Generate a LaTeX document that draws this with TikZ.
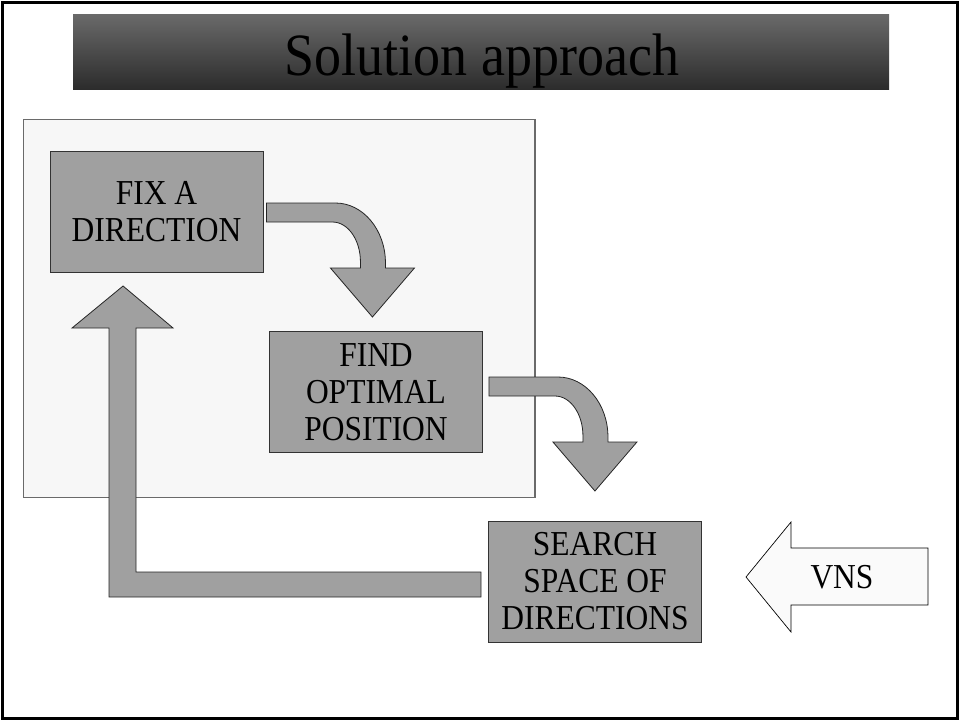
\documentclass[tikz,border=0pt]{standalone}
\usepackage{fontspec}
\setmainfont{Liberation Serif}
\newfontfamily\slidefont[FakeStretch=0.9]{Liberation Serif}
\usetikzlibrary{calc}

\definecolor{boxgray}{HTML}{A0A0A0}
\definecolor{panelfill}{HTML}{F7F7F7}
\definecolor{panelline}{HTML}{6A6A6A}
\definecolor{titletop}{HTML}{6A6A6A}
\definecolor{titlebottom}{HTML}{2C2C2C}

% bent block arrow, drawn from its upper left corner
\newcommand{\bendarrow}[1]{%
  \draw[blockarrow, shift={(#1)}] (0,0) -- (69,0)
    .. controls (96.6,0) and (119,26.9) .. (119,60) -- (119,65)
    -- (148,65) -- (106,114) -- (64,65) -- (94,65) -- (94,59)
    .. controls (94,36.9) and (81.5,19) .. (66,19) -- (0,19) -- cycle;}

\begin{document}
\begin{tikzpicture}[x=1pt, y=-1pt,
    stepbox/.style={draw=black!80, fill=boxgray, line width=0.9pt,
      minimum width=213pt, minimum height=121pt, inner sep=0pt,
      align=center, font=\slidefont\fontsize{35}{37}\selectfont},
    blockarrow/.style={draw=black!85, fill=boxgray, line width=0.8pt}]
    \useasboundingbox (0,0) rectangle (960,721);
    \draw[line width=2.5pt] (2.5,2.5) rectangle (957.5,718.5);

    % title bar
    \shade[top color=titletop, bottom color=titlebottom] (73,14) rectangle (889,89);
    \node[anchor=base, font=\slidefont\fontsize{60}{66}\selectfont] (title) at (482,75) {Solution approach};

    % inner loop
    \draw[draw=panelline, fill=panelfill, line width=1.3pt] (23.5,119.5) rectangle (535,497.5);

    \node[stepbox] (fix) at (156.5,211.5) {FIX A\\DIRECTION};
    \node[stepbox] (find) at (376,392) {FIND\\OPTIMAL\\POSITION};
    \node[stepbox] (search) at (595,581.5) {SEARCH\\SPACE OF\\DIRECTIONS};

    \coordinate (bend1) at ($(fix.east)+(3,-8.5)$);
    \coordinate (bend2) at ($(find.east)+(6,-15)$);
    \bendarrow{bend1}
    \bendarrow{bend2}

    % back to the first step
    \draw[blockarrow] ($(search.west)+(-7,-9.5)$) -- ++(-345,0) -- ++(0,-244)
      -- ++(37,0) -- ++(-50,-42) -- ++(-51,42) -- ++(37,0) -- ++(0,269)
      -- ++(372,0) -- cycle;

    % outer search
    \draw[draw=black, fill=white!98!black, line width=0.7pt] (928,548) -- (791,548)
      -- (791,522) -- (746,577) -- (791,632) -- (791,605) -- (928,605) -- cycle;
    \node[font=\slidefont\fontsize{35}{37}\selectfont] (vns) at (842,577) {VNS};
\end{tikzpicture}
\end{document}
